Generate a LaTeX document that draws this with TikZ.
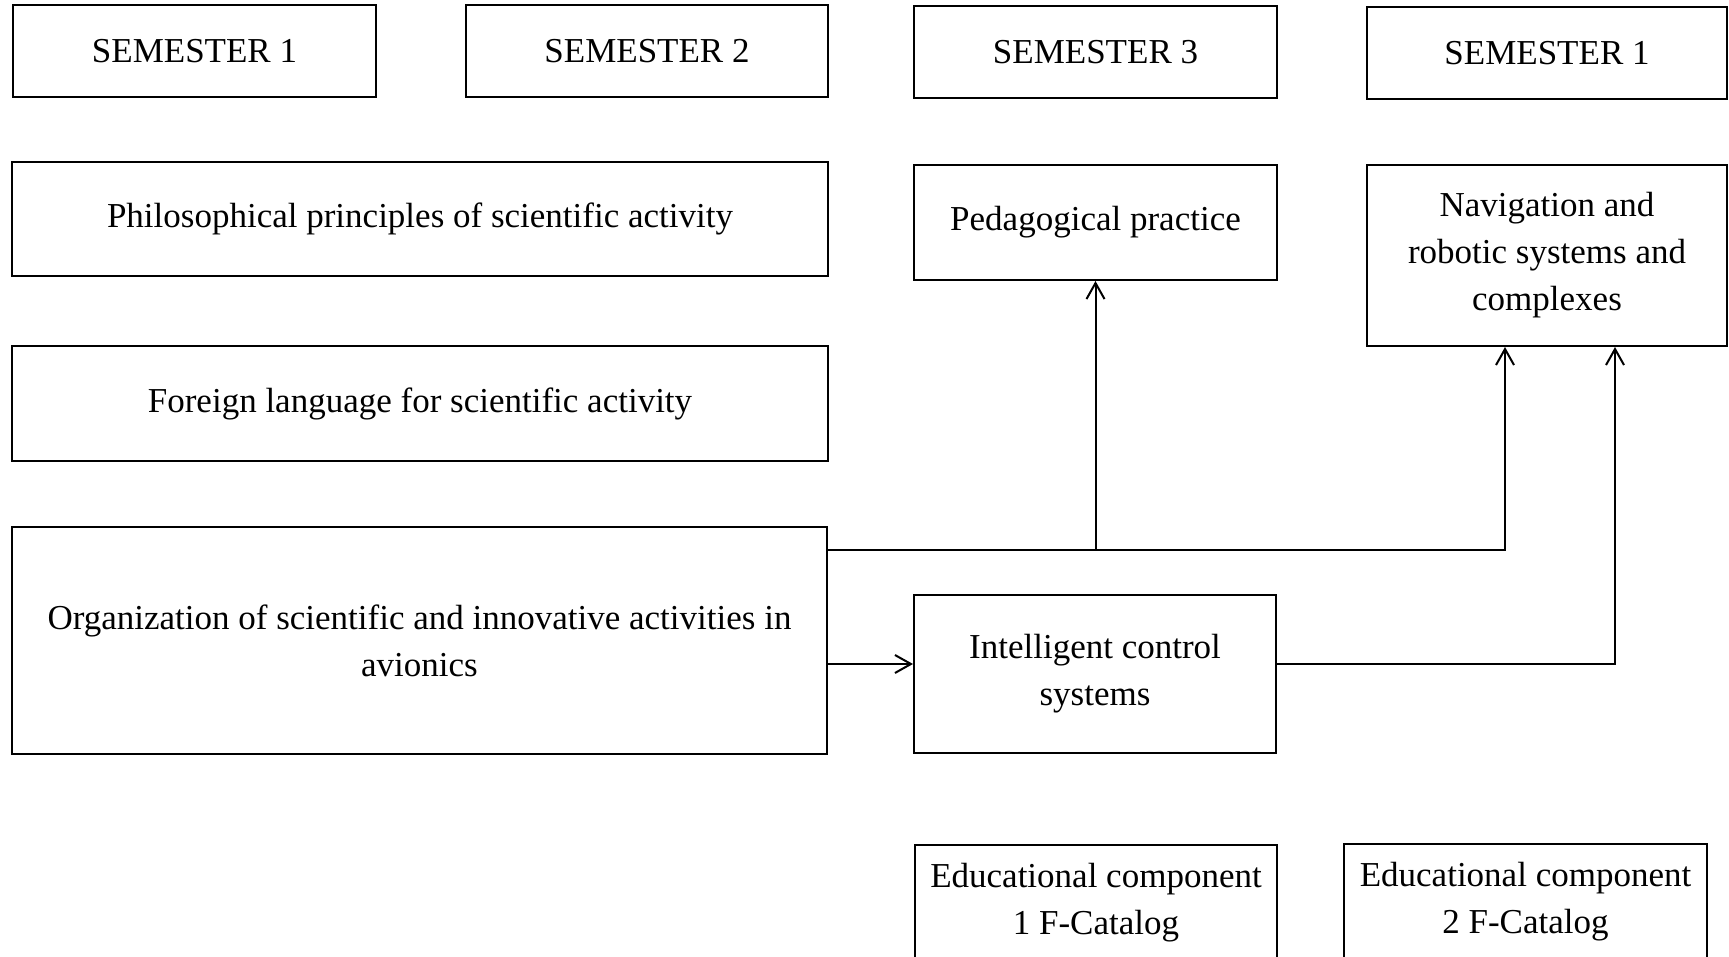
\documentclass[tikz,border=0pt]{standalone}
\usepackage{fontspec}
\setmainfont{Liberation Serif}
\usetikzlibrary{arrows.meta}
\begin{document}
\begin{tikzpicture}[x=1pt,y=-1pt,
  box/.style={draw, line width=2pt, rectangle, inner sep=0pt, align=center,
    font=\fontsize{35}{47}\selectfont},
  conn/.style={line width=2pt},
  arr/.style={conn, -{Straight Barb[length=16pt,width=18pt,line width=2pt]}}]
\clip (0,0) rectangle (1729,957);
\fill[white] (0,0) rectangle (1729,957);
% semester headers
\node[box, minimum width=363pt, minimum height=92pt] (s1) at (194.5,51) {SEMESTER 1};
\node[box, minimum width=362pt, minimum height=92pt] (s2) at (647,51) {SEMESTER 2};
\node[box, minimum width=363pt, minimum height=92pt] (s3) at (1095.5,52) {SEMESTER 3};
\node[box, minimum width=360pt, minimum height=92pt] (s4) at (1547,53.5) {SEMESTER 1};
% courses
\node[box, minimum width=816pt, minimum height=114pt] (phil) at (420,219) {Philosophical principles of scientific activity};
\node[box, minimum width=816pt, minimum height=115pt] (forl) at (420,403.5) {Foreign language for scientific activity};
\node[box, minimum width=815pt, minimum height=227pt] (org) at (419.5,640.5) {Organization of scientific and innovative activities in\\avionics};
\node[box, minimum width=363pt, minimum height=115pt] (ped) at (1095.5,222.5) {Pedagogical practice};
\node[box, minimum width=360pt, minimum height=181pt] (nav) at (1547,255.5) {Navigation and\\robotic systems and\\complexes};
\node[box, minimum width=362pt, minimum height=158pt] (intel) at (1095,674) {Intelligent control\\systems};
\node[box, minimum width=362pt, minimum height=116pt] (edu1) at (1096,903) {Educational component\\1 F-Catalog};
\node[box, minimum width=363pt, minimum height=116pt] (edu2) at (1525.5,902) {Educational component\\2 F-Catalog};
% connectors
\coordinate (j) at ([yshift=-24pt]org.north east);
\draw[arr] (j) -| ([xshift=-42pt]nav.south);
\draw[arr] (ped.south |- j) -- (ped.south);
\coordinate (k) at ([yshift=-23.5pt]org.east);
\draw[arr] (k) -- (k -| intel.west);
\draw[arr] (intel.east |- k) -| ([xshift=68pt]nav.south);
\end{tikzpicture}
\end{document}
